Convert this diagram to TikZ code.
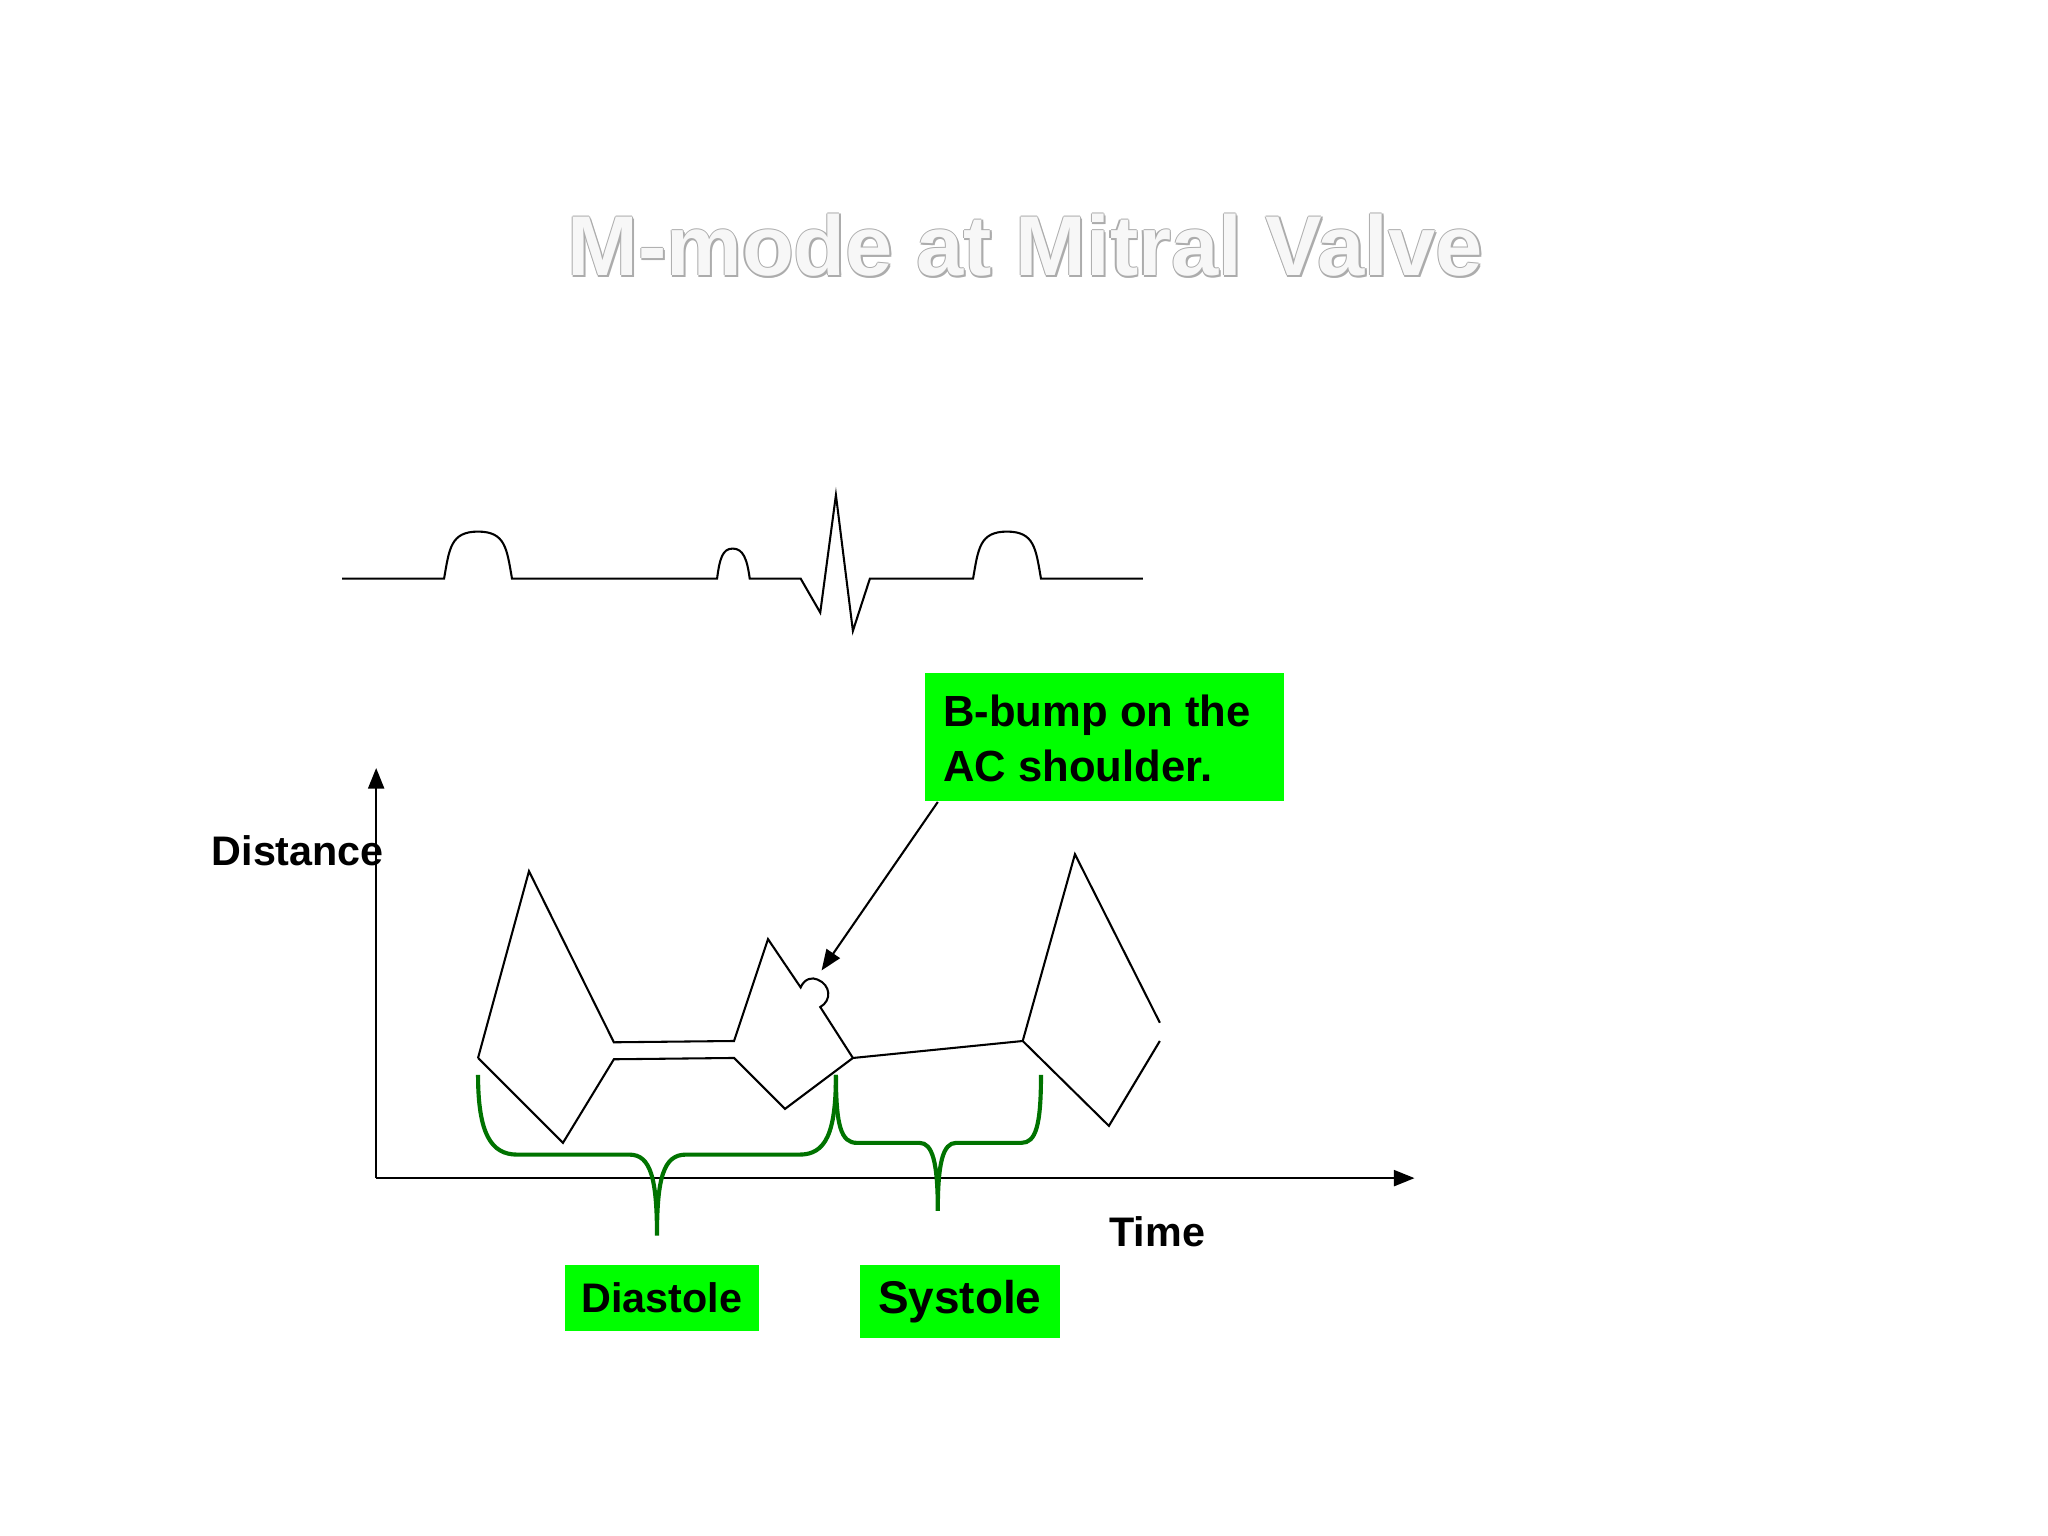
\documentclass[tikz,border=0pt]{standalone}
\usepackage{fontspec}
\setmainfont{Liberation Sans}
\usetikzlibrary{arrows.meta}
\begin{document}
\begin{tikzpicture}[x=0.02cm,y=-0.02cm,
  trace/.style={line width=0.9pt,black},
  brace/.style={line width=1.8pt,green!45!black},
  gbox/.style={fill=green,inner sep=0pt,font=\bfseries},
  lbl/.style={font=\bfseries\fontsize{18}{20}\selectfont},
  ttl/.style={font=\bfseries\fontsize{37}{40}\selectfont}]
\useasboundingbox (0,0) rectangle (1568,1176);
% title
\foreach \dx/\dy in {-1/0,1/0,0/-1,0/1,1.3/1.3}
  \node[ttl,text=gray!65] at (785+\dx,188+\dy) {M-mode at Mitral Valve};
\node[ttl,text=gray!6] (title) at (785,188) {M-mode at Mitral Valve};
% ECG
\draw[trace] (262,443) -- (340,443) .. controls (344,420) and (345,407) .. (366,407)
  .. controls (387,407) and (388,420) .. (392,443) -- (549,443)
  .. controls (551,428) and (553,420) .. (561,420) .. controls (569,420) and (572,428) .. (574,443)
  -- (613,443) -- (628,469) -- (640,379) -- (653,483) -- (666,443) -- (745,443)
  .. controls (749,420) and (750,407) .. (771,407) .. controls (792,407) and (793,420) .. (797,443) -- (875,443);
% axes
\coordinate (O) at (288,902);
\coordinate (Ytop) at (288,588);
\coordinate (Xend) at (1083,902);
\draw[trace,-{Triangle[length=9pt,width=7pt]}] (O) -- (Ytop);
\draw[trace,-{Triangle[length=9pt,width=7pt]}] (O) -- (Xend);
\node[lbl] (dist) at (228,651) {Distance};
\node[lbl] (time) at (886,943) {Time};
% upper trace
\draw[trace] (366,810) -- (405,667) -- (470,798) -- (562,797) -- (588,719) -- (613,756)
  .. controls (616,749) and (622,748) .. (626,750) .. controls (636,754) and (637,766) .. (628,771)
  -- (653,810) -- (783,797) -- (823,654) -- (888,783);
% lower trace
\draw[trace] (366,810) -- (431,875) -- (470,811) -- (562,810) -- (601,849) -- (653,810);
\draw[trace] (783,797) -- (849,862) -- (888,797);
% braces
\draw[brace] (366,823) .. controls (366,868) and (376,884) .. (396,884) -- (482,884)
  .. controls (498,884) and (503,902) .. (503,946) .. controls (503,902) and (508,884) .. (525,884)
  -- (612,884) .. controls (632,884) and (640,868) .. (640,823);
\draw[brace] (640,823) .. controls (640,862) and (644,875) .. (656,875) -- (704,875)
  .. controls (714,875) and (718,890) .. (718,927) .. controls (718,890) and (722,875) .. (732,875)
  -- (782,875) .. controls (793,875) and (797,862) .. (797,823);
% boxes
\node[gbox,minimum width=5.5cm,minimum height=1.96cm,anchor=north west] (bb) at (708,515) {};
\node[anchor=west,align=left,font=\bfseries\fontsize{19}{24}\selectfont] (bbt) at (716,565)
  {B-bump on the\\AC shoulder.};
\node[gbox,minimum width=2.98cm,minimum height=1.02cm,anchor=north west,
  font=\bfseries\fontsize{18}{20}\selectfont] (dia) at (432,968) {Diastole};
\node[gbox,minimum width=3.06cm,minimum height=1.12cm,anchor=north west,
  font=\bfseries\fontsize{20}{22}\selectfont] (sys) at (658,968) {Systole};
\coordinate (bump) at (629,743);
\draw[trace,-{Triangle[length=9pt,width=7pt]}] (718,614) -- (bump);
\end{tikzpicture}
\end{document}
